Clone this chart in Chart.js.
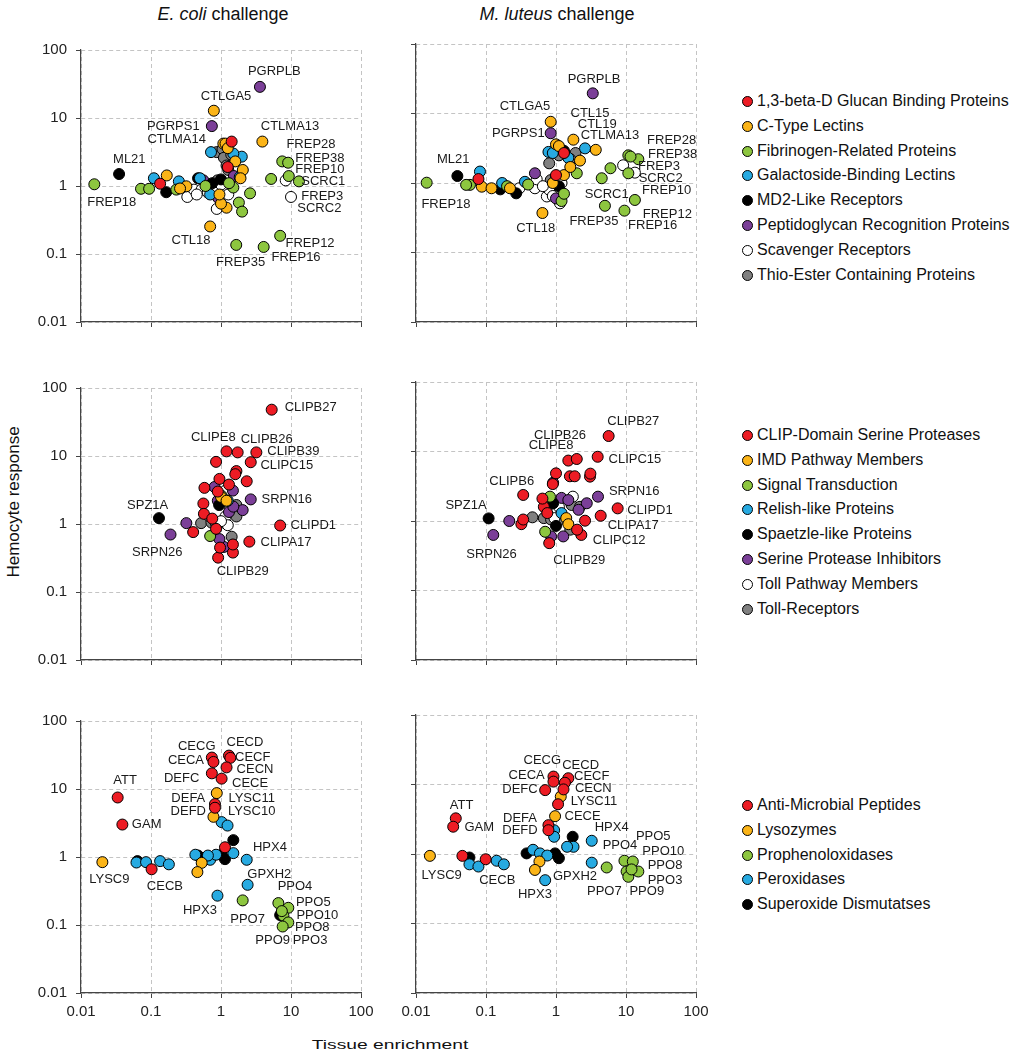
<!DOCTYPE html>
<html>
<head>
<meta charset="utf-8">
<script src="https://cdn.jsdelivr.net/npm/chart.js@4.4.1/dist/chart.umd.min.js"></script>
<style>
    body { margin: 0; background: #fff; font-family: "Liberation Sans", Arial, sans-serif; color: #111; }
    #page { position: relative; width: 1019px; height: 1050px; overflow: hidden; }
    #page canvas { position: absolute; }
    .title { position: absolute; font-size: 18px; white-space: nowrap; transform: translate(-50%, -50%); }
    .ylab { position: absolute; font-size: 17px; white-space: nowrap; transform: translate(-50%, -50%) rotate(-90deg); }
    .xlab { position: absolute; font-size: 13px; white-space: nowrap; transform: translate(-50%, -50%) scaleX(1.48); }
    .legend { position: absolute; left: 742px; font-size: 16px; }
    .legend div { height: 24.8px; line-height: 24.8px; white-space: nowrap; }
    .legend span { display: inline-block; width: 9px; height: 9px; border: 1px solid #000; border-radius: 50%;
                   margin-right: 4px; vertical-align: -1px; }
</style>
</head>
<body>
<div id="page">
    <div class="title" style="left:223px;top:14px"><i>E. coli</i> challenge</div>
    <div class="title" style="left:557px;top:14px"><i>M. luteus</i> challenge</div>
    <div class="ylab" style="left:14px;top:502px">Hemocyte response</div>
    <div class="xlab" style="left:390px;top:1044px">Tissue enrichment</div>
    <div class="legend" id="leg1" style="top:89px"></div>
    <div class="legend" id="leg2" style="top:423px"></div>
    <div class="legend" id="leg3" style="top:793px"></div>
</div>
<script>
// ---- categories ----
const recogCats = ["1,3-beta-D Glucan Binding Proteins", "C-Type Lectins", "Fibrinogen-Related Proteins",
    "Galactoside-Binding Lectins", "MD2-Like Receptors", "Peptidoglycan Recognition Proteins",
    "Scavenger Receptors", "Thio-Ester Containing Proteins"];
const modCats = ["CLIP-Domain Serine Proteases", "IMD Pathway Members", "Signal Transduction",
    "Relish-like Proteins", "Spaetzle-like Proteins", "Serine Protease Inhibitors",
    "Toll Pathway Members", "Toll-Receptors"];
const effCats = ["Anti-Microbial Peptides", "Lysozymes", "Prophenoloxidases", "Peroxidases",
    "Superoxide Dismutatses"];

const eightColors = ["#ED1C24", "#FBB417", "#8DC63F", "#27AAE1", "#000000", "#7B3F98", "#FFFFFF", "#808080"];
const fiveColors = ["#ED1C24", "#FBB417", "#8DC63F", "#27AAE1", "#000000"];

const decadeTicks = [0.01, 0.1, 1, 10, 100];

// ---- points: [tissue enrichment, hemocyte response, category] ----
const ecoliRecog = [
    [1.42, 4.5, 0], [0.135, 1.08, 0], [1.25, 1.9, 0],
    [0.79, 12.8, 1], [3.9, 4.5, 1], [1.08, 4.2, 1], [1.16, 4.2, 1], [1.25, 3.6, 1], [0.70, 0.254, 1],
    [0.168, 1.43, 1], [0.32, 0.99, 1], [2.05, 1.72, 1], [1.2, 0.48, 1], [1.0, 0.55, 1], [0.95, 0.75, 1],
    [1.9, 1.3, 1], [1.6, 2.3, 1], [0.26, 0.92, 1],
    [0.0155, 1.06, 2], [0.072, 0.91, 2], [0.094, 0.91, 2], [0.23, 0.885, 2], [7.5, 2.3, 2], [9.1, 2.2, 2],
    [9.3, 1.4, 2], [13, 1.17, 2], [5.2, 1.27, 2], [1.65, 0.136, 2], [4.07, 0.127, 2], [7.0, 0.185, 2],
    [2.6, 0.78, 2], [1.8, 0.57, 2], [2.0, 0.42, 2], [1.5, 0.95, 2], [1.3, 1.1, 2], [0.6, 1.0, 2],
    [0.11, 1.3, 3], [0.25, 1.17, 3], [0.72, 3.15, 3], [1.98, 2.7, 3], [0.7, 0.75, 3], [0.5, 1.3, 3],
    [1.5, 3.0, 3], [1.85, 1.35, 3],
    [0.035, 1.5, 4], [0.165, 0.81, 4], [0.47, 1.3, 4], [1.0, 1.25, 4], [0.75, 1.1, 4],
    [3.6, 28.7, 5], [0.74, 7.6, 5], [0.56, 1.21, 5], [1.53, 1.4, 5], [0.91, 0.67, 5],
    [8.4, 1.21, 6], [10, 0.69, 6], [0.33, 0.69, 6], [0.41, 0.885, 6], [0.53, 0.89, 6], [0.87, 0.46, 6],
    [0.82, 0.885, 6], [1.14, 0.89, 6], [1.27, 0.75, 6], [0.65, 0.8, 6], [1.0, 1.05, 6], [0.45, 0.75, 6],
    [0.87, 3.15, 7], [0.89, 1.21, 7], [1.31, 2.4, 7], [1.27, 1.72, 7], [1.05, 3.5, 7], [1.1, 2.6, 7],
    [1.4, 2.9, 7], [1.2, 2.0, 7]
];
const luteusRecog = [
    [0.078, 1.14, 0], [1.3, 2.7, 0], [1.0, 1.3, 0],
    [0.84, 7.6, 1], [1.77, 4.2, 1], [3.7, 3.0, 1], [2.2, 2.1, 1], [0.087, 0.885, 1], [0.12, 0.84, 1],
    [0.22, 0.84, 1], [0.64, 0.37, 1], [1.0, 3.6, 1], [1.1, 3.4, 1], [1.3, 1.3, 1], [1.6, 1.7, 1], [0.9, 1.0, 1],
    [0.0142, 1.01, 2], [0.059, 0.94, 2], [0.052, 0.94, 2], [1.98, 1.38, 2], [10.8, 2.5, 2], [15, 2.2, 2],
    [11.6, 2.4, 2], [10.8, 1.38, 2], [6.0, 1.63, 2], [4.5, 1.17, 2], [5.0, 0.47, 2], [9.5, 0.40, 2],
    [13.4, 0.57, 2], [1.2, 0.55, 2], [1.3, 0.7, 2], [0.4, 0.95, 2], [0.2, 0.9, 2],
    [0.082, 1.46, 3], [0.17, 1.0, 3], [0.36, 1.04, 3], [0.78, 2.8, 3], [2.6, 3.15, 3], [0.9, 2.7, 3], [1.5, 2.3, 3],
    [0.039, 1.26, 4], [0.16, 0.81, 4], [0.27, 0.71, 4], [1.3, 2.9, 4], [1.1, 0.9, 4],
    [3.35, 19.5, 5], [0.84, 5.2, 5], [0.5, 1.38, 5], [1.0, 0.6, 5],
    [0.30, 0.84, 6], [0.5, 0.84, 6], [0.53, 1.13, 6], [0.74, 0.64, 6], [1.14, 0.51, 6], [9.1, 1.8, 6],
    [13.4, 1.41, 6], [0.8, 0.8, 6], [1.0, 1.2, 6], [1.2, 1.0, 6], [0.65, 0.9, 6], [0.9, 0.65, 6],
    [0.84, 1.1, 7], [0.8, 1.92, 7], [0.97, 3.0, 7], [1.4, 2.5, 7], [1.9, 2.7, 7], [1.1, 2.5, 7], [1.6, 2.2, 7]
];
const ecoliMod = [
    [5.3, 48, 0], [1.2, 11.7, 0], [1.73, 11.3, 0], [3.2, 11.3, 0], [2.66, 8.1, 0], [0.85, 8.2, 0],
    [1.66, 6.0, 0], [1.6, 5.4, 0], [2.33, 4.25, 0], [0.58, 3.4, 0], [0.56, 2.0, 0], [0.57, 1.41, 0],
    [0.40, 0.76, 0], [0.91, 0.32, 0], [0.97, 0.45, 0], [1.48, 0.38, 0], [1.48, 0.5, 0], [7.0, 0.95, 0],
    [2.54, 0.55, 0], [0.85, 0.85, 0], [0.95, 4.6, 0], [0.9, 3.0, 0], [1.3, 3.8, 0], [0.75, 1.2, 0],
    [1.0, 2.5, 1], [1.2, 2.2, 1],
    [1.02, 2.6, 2], [0.7, 0.665, 2],
    [1.25, 2.2, 3],
    [0.13, 1.22, 4], [0.94, 1.9, 4],
    [0.81, 3.5, 5], [1.48, 3.1, 5], [2.66, 2.3, 5], [2.04, 1.6, 5], [0.19, 0.70, 5], [0.32, 1.03, 5],
    [1.1, 0.46, 5], [0.95, 0.6, 5], [1.3, 1.5, 5], [1.5, 1.8, 5], [0.9, 2.2, 5],
    [1.16, 3.1, 6], [1.16, 1.29, 6], [1.25, 0.96, 6], [1.0, 1.1, 6], [1.35, 1.7, 6],
    [1.66, 1.9, 7], [1.66, 1.29, 7], [0.52, 1.03, 7], [0.73, 1.05, 7], [1.08, 1.05, 7], [1.42, 0.65, 7],
    [0.85, 1.0, 7]
];
const luteusMod = [
    [5.65, 16.7, 0], [3.94, 8.4, 0], [1.5, 7.4, 0], [1.98, 7.8, 0], [1.58, 4.4, 0], [1.85, 4.4, 0],
    [3.06, 4.35, 0], [3.1, 4.8, 0], [1.0, 4.85, 0], [0.34, 2.37, 0], [7.6, 1.52, 0], [4.35, 1.19, 0],
    [2.6, 1.01, 0], [2.3, 0.63, 0], [0.32, 0.9, 0], [0.34, 1.05, 0], [0.67, 1.6, 0], [0.64, 2.1, 0],
    [0.8, 0.48, 0], [2.0, 0.75, 0], [0.9, 3.4, 0], [0.75, 1.3, 0],
    [1.4, 1.1, 1], [1.5, 0.9, 1],
    [0.82, 2.24, 2], [0.7, 0.70, 2],
    [1.2, 1.3, 3],
    [0.109, 1.09, 4], [1.0, 0.85, 4], [0.91, 1.8, 4],
    [0.91, 3.55, 5], [1.2, 2.15, 5], [3.98, 2.24, 5], [2.75, 1.8, 5], [2.1, 1.45, 5], [0.127, 0.63, 5],
    [0.215, 1.0, 5], [1.27, 0.6, 5], [0.85, 0.6, 5], [1.5, 2.0, 5],
    [1.74, 2.24, 6], [1.0, 1.3, 6], [1.1, 1.6, 6], [0.95, 1.1, 6],
    [1.67, 1.7, 7], [2.2, 1.6, 7], [1.13, 1.15, 7], [1.07, 1.0, 7], [0.67, 1.1, 7], [0.46, 1.13, 7],
    [1.6, 0.75, 7], [0.85, 1.05, 7]
];
const ecoliEff = [
    [0.74, 29, 0], [0.78, 25, 0], [1.3, 31, 0], [1.36, 28.7, 0], [1.2, 20.8, 0], [0.74, 17, 0],
    [1.02, 14.2, 0], [0.82, 6.0, 0], [0.82, 5.3, 0], [0.0334, 7.5, 0], [0.039, 3.0, 0], [0.102, 0.66, 0],
    [1.14, 1.39, 0],
    [0.87, 8.7, 1], [0.78, 3.9, 1], [0.0202, 0.84, 1], [0.53, 0.82, 1], [0.46, 0.60, 1],
    [2.04, 0.23, 2], [6.6, 0.21, 2], [9.15, 0.179, 2], [7.8, 0.137, 2], [9.15, 0.109, 2], [7.6, 0.095, 2],
    [7.4, 0.16, 2],
    [1.02, 3.26, 3], [1.24, 2.9, 3], [0.062, 0.83, 3], [0.085, 0.84, 3], [0.135, 0.87, 3], [0.18, 0.78, 3],
    [0.43, 1.08, 3], [0.7, 0.91, 3], [0.85, 1.08, 3], [1.5, 1.14, 3], [2.33, 0.91, 3], [2.4, 0.39, 3],
    [0.89, 0.27, 3], [0.65, 1.05, 3],
    [0.064, 0.87, 4], [0.47, 1.05, 4], [1.02, 1.08, 4], [1.14, 0.93, 4], [1.5, 1.77, 4], [7.0, 0.14, 4]
];
const luteusEff = [
    [0.92, 13, 0], [0.92, 11, 0], [1.5, 12.3, 0], [1.34, 10.6, 0], [1.28, 8.5, 0], [0.70, 8.3, 0],
    [1.07, 5.2, 0], [0.78, 2.6, 0], [0.78, 2.2, 0], [0.037, 3.26, 0], [0.034, 2.47, 0], [0.046, 0.94, 0],
    [0.099, 0.84, 0],
    [1.17, 6.7, 1], [0.97, 3.5, 1], [0.0158, 0.94, 1], [0.58, 0.78, 1], [0.50, 0.59, 1],
    [5.3, 0.64, 2], [9.5, 0.80, 2], [12.5, 0.78, 2], [10.2, 0.56, 2], [15, 0.56, 2], [10.8, 0.47, 2],
    [12, 0.6, 2],
    [0.94, 2.2, 3], [0.94, 1.77, 3], [3.24, 1.55, 3], [1.78, 1.27, 3], [1.44, 1.27, 3], [0.47, 1.15, 3],
    [0.59, 1.02, 3], [0.75, 0.95, 3], [0.70, 0.42, 3], [3.24, 0.75, 3], [0.058, 0.71, 3], [0.078, 0.66, 3],
    [0.142, 0.80, 3], [0.18, 0.71, 3],
    [1.73, 1.77, 4], [0.38, 1.02, 4], [0.97, 1.02, 4], [1.1, 0.87, 4], [0.058, 0.89, 4]
];

// ---- gene name annotations, anchored in data units ----
const ecoliRecogNotes = [
    ["PGRPLB", 5.77, 48.2], ["CTLGA5", 1.18, 20.6], ["PGRPS1", 0.208, 7.62], ["CTLMA13", 9.68, 7.62],
    ["CTLMA14", 0.233, 4.91], ["FREP28", 19.3, 4.06], ["FREP38", 25.9, 2.53], ["FREP10", 25.9, 1.76],
    ["SCRC1", 28.9, 1.17], ["FREP3", 28, 0.695], ["SCRC2", 25.4, 0.471], ["ML21", 0.049, 2.45],
    ["FREP18", 0.0275, 0.582], ["CTL18", 0.373, 0.156], ["FREP12", 18.7, 0.143], ["FREP16", 11.8, 0.089],
    ["FREP35", 1.91, 0.0755]
];
const luteusRecogNotes = [
    ["PGRPLB", 3.49, 31], ["CTLGA5", 0.36, 12.5], ["CTL15", 3.06, 10.1], ["CTL19", 3.89, 7.0],
    ["CTLMA13", 5.9, 4.91], ["PGRPS1", 0.289, 5.19], ["FREP28", 44.9, 4.06], ["FREP38", 46.4, 2.61],
    ["FREP3", 29.6, 1.76], ["SCRC2", 31.3, 1.17], ["FREP10", 38.1, 0.776], ["SCRC1", 5.3, 0.687],
    ["FREP12", 38.9, 0.358], ["FREP16", 24, 0.249], ["FREP35", 3.49, 0.278], ["CTL18", 0.513, 0.223],
    ["ML21", 0.0341, 2.19], ["FREP18", 0.0268, 0.499]
];
const ecoliModNotes = [
    ["CLIPB27", 19.1, 52.1], ["CLIPE8", 0.776, 18.6], ["CLIPB26", 4.5, 17.3], ["CLIPB39", 10.8, 11.5],
    ["CLIPC15", 8.7, 7.38], ["SRPN16", 8.7, 2.29], ["SPZ1A", 0.0896, 1.9], ["CLIPD1", 20.8, 0.957],
    ["CLIPA17", 8.49, 0.533], ["SRPN26", 0.123, 0.383], ["CLIPB29", 2.04, 0.202]
];
const luteusModNotes = [
    ["CLIPB27", 12.7, 26.8], ["CLIPB26", 1.14, 17.3], ["CLIPE8", 0.85, 12.4], ["CLIPC15", 13.4, 7.8],
    ["CLIPB6", 0.233, 3.68], ["SRPN16", 13.1, 2.7], ["SPZ1A", 0.0518, 1.7], ["CLIPD1", 22, 1.41],
    ["CLIPA17", 12.7, 0.855], ["CLIPC12", 8.0, 0.52], ["SRPN26", 0.12, 0.332], ["CLIPB29", 2.15, 0.275]
];
const ecoliEffNotes = [
    ["CECG", 0.45, 42.3], ["CECD", 2.2, 48.7], ["CECA", 0.316, 26.6], ["CECF", 2.84, 29.6],
    ["CECN", 3.06, 19.1], ["DEFC", 0.274, 14.2], ["CECE", 2.6, 11.9], ["ATT", 0.0426, 13.3],
    ["DEFA", 0.341, 7.22], ["LYSC11", 2.74, 7.22], ["DEFD", 0.341, 4.7], ["LYSC10", 2.74, 4.7],
    ["GAM", 0.0867, 2.98], ["HPX4", 5.0, 1.39], ["LYSC9", 0.0254, 0.472], ["CECB", 0.158, 0.37],
    ["GPXH2", 4.9, 0.557], ["PPO4", 11.4, 0.366], ["HPX3", 0.5, 0.162], ["PPO7", 2.4, 0.121],
    ["PPO5", 20.8, 0.218], ["PPO10", 23.8, 0.14], ["PPO8", 20.1, 0.093], ["PPO9", 5.48, 0.059],
    ["PPO3", 18.7, 0.059]
];
const luteusEffNotes = [
    ["CECG", 0.638, 22.5], ["CECD", 2.25, 19.1], ["CECA", 0.381, 13.7], ["CECF", 3.24, 13],
    ["DEFC", 0.306, 8.53], ["CECN", 3.41, 8.82], ["LYSC11", 3.49, 5.66], ["ATT", 0.0449, 5.07],
    ["CECE", 2.4, 3.52], ["DEFA", 0.306, 3.26], ["GAM", 0.08, 2.39], ["DEFD", 0.306, 2.17],
    ["HPX4", 6.24, 2.39], ["PPO5", 24.5, 1.77], ["PPO4", 8.2, 1.35], ["PPO10", 34.1, 1.1],
    ["PPO8", 36.1, 0.695], ["PPO3", 36.1, 0.423], ["GPXH2", 1.87, 0.472], ["LYSC9", 0.0233, 0.499],
    ["CECB", 0.145, 0.423], ["HPX3", 0.5, 0.266], ["PPO7", 4.9, 0.287], ["PPO9", 19.8, 0.287]
];

// ---- drawing ----
const FONT = '"Liberation Sans", Arial, sans-serif';
const page = document.getElementById("page");

function notesPlugin(notes) {
    return {
        id: "geneNotes",
        afterDatasetsDraw(chart) {
            const { ctx, scales } = chart;
            ctx.save();
            ctx.font = "13px " + FONT;
            ctx.fillStyle = "#1a1a1a";
            ctx.textAlign = "center";
            ctx.textBaseline = "middle";
            notes.forEach(([name, vx, vy]) => {
                ctx.fillText(name, scales.x.getPixelForValue(vx), scales.y.getPixelForValue(vy));
            });
            ctx.restore();
        }
    };
}

function logAxis(showLabels, isY) {
    return {
        type: "logarithmic",
        min: 0.01,
        max: 100,
        afterBuildTicks: (s) => { s.ticks = decadeTicks.map((v) => ({ value: v })); },
        afterFit: (s) => {
            if (isY) s.width = showLabels ? 81 : 36;
            else s.height = 30;
        },
        grid: { color: "#c4c4c4", lineWidth: 1, tickLength: 5, tickColor: "#444", tickWidth: 1 },
        border: { display: true, color: "#444", width: 1.2, dash: [4, 3] },
        ticks: {
            display: showLabels,
            autoSkip: false,
            maxRotation: 0,
            padding: isY ? 9 : 5,
            color: "#222",
            font: { family: FONT, size: 15 },
            callback: (v) => String(v)
        }
    };
}

function makePanel(points, cats, colors, notes, left, areaTop, isLeft, isBottom) {
    const canvas = document.createElement("canvas");
    const width = isLeft ? 380 : 340;
    const height = 12 + 278 + 30;
    canvas.width = width;
    canvas.height = height;
    canvas.style.left = left + "px";
    canvas.style.top = (areaTop - 12) + "px";
    canvas.style.width = width + "px";
    canvas.style.height = height + "px";
    page.appendChild(canvas);

    const datasets = cats.map((name, i) => ({
        label: name,
        data: points.filter((p) => p[2] === i).map((p) => ({ x: p[0], y: p[1] })),
        backgroundColor: colors[i],
        borderColor: "#000",
        borderWidth: 1,
        pointRadius: 5.5,
        pointHoverRadius: 5.5
    }));

    new Chart(canvas.getContext("2d"), {
        type: "scatter",
        data: { datasets },
        options: {
            responsive: false,
            animation: false,
            devicePixelRatio: 1,
            layout: { padding: { top: 12, bottom: 0, left: 0, right: isLeft ? 19 : 24 } },
            plugins: { legend: { display: false }, tooltip: { enabled: false } },
            scales: {
                x: logAxis(isBottom, false),
                y: logAxis(isLeft, true)
            }
        },
        plugins: [notesPlugin(notes)]
    });
}

function makeLegend(id, cats, colors) {
    const box = document.getElementById(id);
    cats.forEach((name, i) => {
        const row = document.createElement("div");
        const dot = document.createElement("span");
        dot.style.background = colors[i];
        row.appendChild(dot);
        row.appendChild(document.createTextNode(name));
        box.appendChild(row);
    });
}

makePanel(ecoliRecog, recogCats, eightColors, ecoliRecogNotes, 0, 44, true, false);
makePanel(luteusRecog, recogCats, eightColors, luteusRecogNotes, 380, 44, false, false);
makePanel(ecoliMod, modCats, eightColors, ecoliModNotes, 0, 382, true, false);
makePanel(luteusMod, modCats, eightColors, luteusModNotes, 380, 382, false, false);
makePanel(ecoliEff, effCats, fiveColors, ecoliEffNotes, 0, 715, true, true);
makePanel(luteusEff, effCats, fiveColors, luteusEffNotes, 380, 715, false, true);

makeLegend("leg1", recogCats, eightColors);
makeLegend("leg2", modCats, eightColors);
makeLegend("leg3", effCats, fiveColors);
</script>
</body>
</html>
